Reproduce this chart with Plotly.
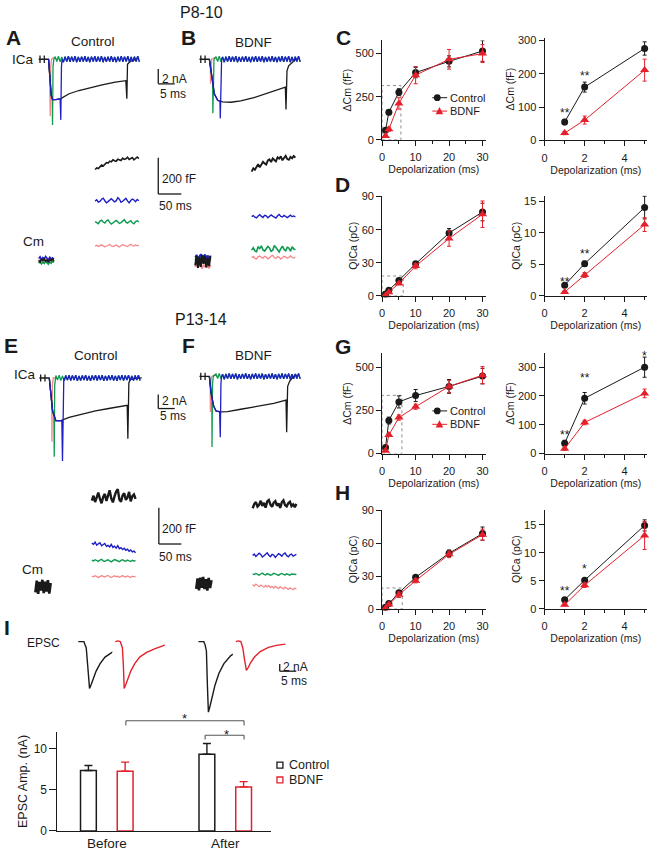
import plotly.graph_objects as go

W, H = 652, 853
FONT = "Liberation Sans, Arial, sans-serif"
INK = "#1a1a1a"
RED = "#e3202b"
BLUE = "#1f1fc6"
GREEN = "#0e9a50"
PINK = "#f4898b"
GREY = "#8c8c8c"

# ── Summary data: depolarization steps (ms) ───────────────────────────────────
DEPOL = [1, 2, 5, 10, 20, 30]
ZOOM_N = 3  # inset plots show the 1, 2 and 5 ms steps

C_CTRL = [55, 160, 276, 390, 455, 515]
C_CTRL_ERR = [8, 15, 20, 30, 32, 60]
C_BDNF = [22, 61, 211, 375, 467, 500]
C_BDNF_ERR = [5, 12, 33, 50, 57, 52]

D_CTRL = [1.7, 5.1, 14.0, 29, 57, 76]
D_CTRL_ERR = [0.3, 0.4, 1.8, 2, 4, 8]
D_BDNF = [0.6, 3.3, 11.3, 27, 52, 74]
D_BDNF_ERR = [0.2, 0.4, 1.1, 2.5, 7, 12]

G_CTRL = [36, 192, 300, 337, 390, 450]
G_CTRL_ERR = [10, 20, 35, 35, 40, 45]
G_BDNF = [17, 108, 209, 272, 390, 455]
G_BDNF_ERR = [5, 8, 15, 15, 35, 50]

H_CTRL = [1.6, 5.1, 14.9, 29, 51, 69]
H_CTRL_ERR = [0.2, 0.3, 1.0, 1.5, 3, 6]
H_BDNF = [0.7, 4.2, 13.1, 26, 50, 68]
H_BDNF_ERR = [0.2, 0.4, 2.5, 2, 3, 5]

# ── EPSC amplitude bars ───────────────────────────────────────────────────────
EPSC_GROUPS = ["Before", "After"]
EPSC_CTRL = [7.35, 9.33]
EPSC_CTRL_ERR = [0.62, 1.31]
EPSC_BDNF = [7.26, 5.36]
EPSC_BDNF_ERR = [1.12, 0.64]

# ── ICa traces (ms from step onset, nA) ───────────────────────────────────────
HOLD_T = [-3.0, -2.6, -2.6, -2.6, -2.6, -1.3, -1.3, -1.3, -1.3, 0.0]
HOLD_I = [0, 0, 0.5, -0.5, 0, 0, 0.5, -0.5, 0, 0]

ZIG_T = [2.0, 2.5, 3.0, 3.5, 4.0, 4.5, 5.0, 5.5, 6.0, 6.5, 7.0, 7.5, 8.0,
         8.5, 9.0, 9.5, 10.0, 10.5, 11.0, 11.5, 12.0, 12.5, 13.0, 13.5, 14.0, 14.5,
         15.0, 15.5, 16.0, 16.5, 17.0, 17.5, 18.0, 18.5, 19.0, 19.5, 20.0, 20.5, 21.0,
         21.5, 22.0, 22.5, 23.0, 23.5, 24.0, 24.5, 25.0, 25.5, 26.0, 26.5, 27.0, 27.5]
ZIG_I = [0.35, -0.30, 0.40, -0.35, 0.30, -0.40, 0.35, -0.30, 0.40, -0.35, 0.35, -0.30, 0.40,
         -0.40, 0.30, -0.35, 0.35, -0.30, 0.40, -0.35, 0.30, -0.40, 0.35, -0.30, 0.40, -0.35,
         0.35, -0.30, 0.40, -0.40, 0.30, -0.35, 0.35, -0.30, 0.40, -0.35, 0.30, -0.40, 0.35,
         -0.30, 0.40, -0.35, 0.35, -0.30, 0.40, -0.40, 0.30, -0.35, 0.35, -0.30, 0.40, -0.35]

A_K_T = [0, 0.4, 0.8, 1.2, 2.2, 3.7, 6.2, 9.2, 12.2, 16.2, 20.2, 23.4, 23.7, 23.9, 24.7, 25.7, 26.7]
A_K_I = [0, -2.9, -4.9, -5.47, -5.47, -5.33, -4.67, -4.23, -3.87, -3.47, -3.1, -2.9, -5.33, -0.67, -0.3, -0.13, 0]
A_BL_T = [0, 0.4, 0.8, 1.2, 2.2, 3.5, 3.7, 3.9, 4.1]
A_BL_I = [0, -2.9, -4.9, -5.47, -5.47, -5.35, -8.2, -1.0, 0]
A_GR_T = [0, 0.4, 0.8, 1.1, 1.2, 1.35, 1.6]
A_GR_I = [0, -2.9, -4.9, -5.4, -8.9, -1.0, 0]
A_PK_T = [0, 0.3, 0.5, 0.65, 0.9, 1.5, 2.5]
A_PK_I = [0, -2.2, -7.7, -1.0, 0, 0.2, 0]

B_K_T = [0, 0.7, 1.5, 2.5, 4.0, 6.5, 9.5, 13.5, 17.5, 20.5, 23.0, 23.2, 23.5, 24.0, 25.0, 26.0, 26.5]
B_K_I = [0, -2.44, -4.67, -5.56, -5.78, -5.82, -5.64, -5.2, -4.58, -4.13, -3.78, -6.8, -1.56, -0.89, -0.44, -0.09, 0]
B_BL_T = [0, 0.7, 1.5, 2.5, 3.2, 3.3, 3.5, 3.7]
B_BL_I = [0, -2.44, -4.67, -5.56, -5.7, -8.0, -1.0, 0]
B_GR_T = [0, 0.7, 1.0, 1.05, 1.2, 1.4]
B_GR_I = [0, -2.44, -3.2, -7.3, -1.0, 0]
B_PK_T = [0, 0.3, 0.35, 0.5, 0.7, 1.5, 2.5]
B_PK_I = [0, -1.2, -3.3, -0.5, 0, 0.2, 0]

E_K_T = [0, 0.5, 1.0, 2.0, 3.5, 6.0, 10.0, 14.0, 18.0, 21.0, 23.6, 23.8, 24.1, 24.5, 25.5, 28.0]
E_K_I = [0, -2.56, -4.63, -6.02, -6.02, -5.56, -5.09, -4.63, -4.3, -4.03, -3.84, -8.57, -0.7, -0.23, -0.1, 0]
E_BL_T = [0, 0.5, 1.0, 2.0, 3.8, 4.0, 4.2, 4.4]
E_BL_I = [0, -2.56, -4.63, -6.02, -6.0, -11.7, -1.0, 0]
E_GR_T = [0, 0.5, 1.0, 1.4, 1.5, 1.65, 1.9]
E_GR_I = [0, -2.56, -4.63, -5.3, -11.1, -1.0, 0]
E_PK_T = [0, 0.5, 0.75, 0.8, 0.95, 1.2, 2.5]
E_PK_I = [0, -2.56, -3.6, -9.0, -1.0, 0, 0]

F_K_T = [0, 0.5, 1.3, 2.0, 3.5, 5.5, 9.5, 14.5, 19.5, 23.2, 23.4, 23.7, 24.3, 25.5, 26.5]
F_K_I = [0, -2.3, -4.17, -4.86, -5.0, -4.95, -4.63, -4.26, -3.8, -3.33, -7.86, -1.39, -0.69, 0, 0.2]
F_BL_T = [0, 0.5, 1.3, 2.0, 3.1, 3.3, 3.5, 3.7]
F_BL_I = [0, -2.3, -4.17, -4.86, -5.0, -8.56, -1.0, 0]
F_GR_T = [0, 0.5, 0.75, 0.8, 0.95, 1.2]
F_GR_I = [0, -2.3, -3.2, -9.94, -1.0, 0]
F_PK_T = [0, 0.25, 0.3, 0.45, 0.7, 1.5, 2.5]
F_PK_I = [0, -1.2, -5.0, -0.6, 0, 0.2, 0]

# ── Cm traces (ms, fF above pre-pulse baseline) ──────────────────────────────
CM_PRE_T = [0, 3, 6, 9, 12, 15, 18, 21, 24, 27, 30, 33]
CM_POST_T = [122, 125.5, 129, 132.5, 136, 139.5, 143, 146.5, 150, 153.5,
             157, 160.5, 164, 167.5, 171, 174.5, 178, 181.5, 185, 188.5,
             192, 195.5, 199, 202.5, 206, 209.5, 213, 216.5]

A_CMPRE_P = [-8, 6, -4, 10, -6, 4, -10, 8, -2, 6, -6, 2]
A_CMPRE_G = [-16, -6, -20, -10, -18, -4, -14, -22, -8, -16, -6, -12]
A_CMPRE_B = [10, 20, 4, 16, 8, 22, 12, 2, 18, 8, 14, 6]
A_CMPRE_K = [0, -10, 8, -4, 12, -8, 4, -12, 6, -2, 10, -6]
A_CM_K = [503, 512, 508, 520, 527, 522, 535, 541, 538, 549, 545, 556, 551, 548,
          560, 557, 553, 566, 559, 562, 571, 558, 565, 569, 556, 567, 572, 563]
A_CM_B = [328, 335, 322, 326, 338, 344, 330, 319, 325, 336, 341, 333, 324, 329,
          347, 338, 321, 327, 335, 343, 329, 318, 331, 339, 334, 325, 337, 330]
A_CM_G = [214, 208, 203, 217, 222, 212, 206, 219, 224, 210, 201, 207, 216, 221,
          213, 204, 209, 218, 225, 211, 206, 214, 220, 208, 202, 215, 219, 212]
A_CM_P = [79, 83, 77, 81, 86, 80, 75, 78, 84, 88, 81, 76, 80, 85,
          79, 74, 82, 87, 83, 78, 76, 84, 89, 82, 79, 85, 81, 84]

B_CMPRE_P = [-30, -12, -36, -6, -26, -40, -18, -32, -10, -28, -38, -20]
B_CMPRE_G = [8, 24, 0, 30, 14, 26, 4, 20, 32, 10, 22, 6]
B_CMPRE_B = [22, 36, 12, 30, 40, 16, 28, 38, 14, 32, 20, 26]
B_CMPRE_K = [-22, 30, -36, 24, -30, 36, -14, 28, -34, 20, -26, 32]
B_CM_K = [496, 515, 507, 524, 538, 520, 533, 551, 542, 536, 558, 564, 549, 570,
          561, 553, 576, 568, 581, 559, 572, 584, 566, 562, 578, 570, 583, 574]
B_CM_B = [247, 253, 244, 240, 251, 258, 249, 243, 255, 252, 241, 247, 257, 250,
          244, 239, 252, 259, 248, 245, 254, 250, 242, 249, 256, 247, 251, 246]
B_CM_G = [62, 75, 58, 54, 80, 71, 86, 63, 57, 69, 82, 74, 55, 61,
          88, 77, 64, 52, 70, 84, 66, 59, 78, 73, 56, 81, 68, 64]
B_CM_P = [21, 27, 16, 13, 25, 30, 22, 18, 28, 24, 14, 19, 29, 33,
          21, 16, 26, 22, 12, 20, 28, 25, 17, 23, 30, 21, 18, 24]

E_CMPRE_K = [-30, 35, -38, 28, -20, 40, -34, 30, -26, 38, -36, 22]
E_CM_K = [478, 505, 470, 492, 522, 487, 463, 498, 515, 476, 509, 535, 490, 468,
          501, 528, 541, 484, 472, 507, 519, 482, 495, 526, 474, 503, 512, 488]
E_CM_B = [243, 236, 248, 231, 239, 245, 228, 234, 241, 225, 230, 222, 236, 219,
          226, 215, 229, 212, 218, 207, 214, 203, 209, 198, 205, 194, 199, 189]
E_CM_G = [148, 144, 151, 146, 142, 149, 153, 145, 141, 147, 150, 144, 139, 146,
          152, 148, 143, 140, 147, 151, 145, 142, 149, 146, 141, 148, 144, 146]
E_CM_P = [60, 56, 62, 58, 53, 57, 63, 59, 55, 61, 64, 57, 52, 58,
          62, 56, 60, 54, 59, 63, 57, 55, 61, 58, 53, 60, 56, 59]

F_CMPRE_K = [-28, 30, -36, 34, -22, 38, -30, 26, -38, 32, -24, 20]
F_CM_K = [418, 441, 452, 427, 436, 459, 431, 447, 421, 455, 463, 438, 426, 449,
          457, 432, 444, 420, 451, 461, 435, 428, 446, 454, 430, 439, 424, 442]
F_CM_B = [156, 164, 151, 158, 169, 162, 148, 155, 166, 171, 157, 150, 163, 159,
          146, 154, 167, 161, 152, 165, 170, 156, 149, 160, 164, 153, 158, 162]
F_CM_G = [55, 51, 57, 53, 48, 54, 59, 52, 49, 56, 53, 47, 51, 58,
          55, 50, 46, 53, 57, 52, 49, 55, 51, 47, 54, 52, 49, 51]
F_CM_P = [-4, -13, -2, -10, -16, -7, -12, -19, -9, -17, -11, -21, -14, -24,
          -15, -20, -27, -16, -23, -29, -19, -25, -31, -22, -28, -33, -24, -30]

# ── EPSC traces (ms from sweep start, nA) ─────────────────────────────────────
EPSC_BC_T = [0, 1.7, 2.0, 2.4, 2.85, 3.4, 3.9, 4.5, 5.4, 6.6, 8.1, 10.2, 12.6, 15.0]
EPSC_BC_I = [0, 0, -0.77, -1.7, -6.7, -13.0, -11.9, -10.3, -8.2, -6.1, -4.3, -3.0, -2.1, -1.6]
EPSC_BB_T = [0, 0.8, 1.5, 1.86, 2.16, 2.46, 2.7, 3.2, 3.8, 4.7, 5.9, 7.4, 9.5, 11.9, 15.0]
EPSC_BB_I = [0, 0.2, 0, -0.77, -1.7, -6.7, -13.0, -11.9, -10.3, -8.2, -6.1, -4.3, -3.0, -2.0, -1.0]
EPSC_AC_T = [0, 1.6, 2.0, 2.4, 2.7, 3.0, 3.5, 4.1, 5.0, 6.2, 7.7, 9.8, 12.2, 15.0]
EPSC_AC_I = [0, 0, -0.9, -2.6, -12.1, -19.6, -17.9, -15.4, -12.1, -8.8, -6.1, -3.9, -2.5, -1.6]
EPSC_AB_T = [0, 0.75, 1.5, 1.74, 2.1, 2.55, 3.2, 3.75, 4.5, 5.7, 7.5, 9.9, 12.3, 15.0]
EPSC_AB_I = [0, 0.2, 0, -0.63, -1.7, -4.5, -8.0, -7.2, -5.8, -4.2, -2.7, -1.6, -1.04, -0.71]


fig = go.Figure()
axes = {}


def xk(n): return "xaxis" if n == 1 else f"xaxis{n}"
def yk(n): return "yaxis" if n == 1 else f"yaxis{n}"
def xr(n): return "x" if n == 1 else f"x{n}"
def yr(n): return "y" if n == 1 else f"y{n}"


AX_LINE = dict(showline=True, linecolor=INK, linewidth=1.2, ticks="outside",
               ticklen=5, tickwidth=1.1, tickcolor=INK, showgrid=False,
               zeroline=False, tickfont=dict(size=11, color=INK))


def plot_axes(n, left, right, xrange_, top, bottom, yrange_, xdt, ydt, ytitle):
    axes[xk(n)] = dict(AX_LINE, domain=[left / W, right / W], range=xrange_,
                       anchor=yr(n), tick0=0, dtick=xdt, ticklabelstandoff=2,
                       minor=dict(dtick=xdt / 2, ticks="outside", ticklen=3,
                                  tickcolor=INK, tickwidth=1),
                       title=dict(text="Depolarization (ms)", standoff=3,
                                  font=dict(size=10.5, color=INK)))
    axes[yk(n)] = dict(AX_LINE, domain=[1 - bottom / H, 1 - top / H], range=yrange_,
                       anchor=xr(n), tick0=0, dtick=ydt,
                       title=dict(text=ytitle, standoff=1,
                                  font=dict(size=10.5, color=INK)))


def trace_axes(n, box, origin, sx, sy):
    # box in page pixels (left, top, right, bottom); origin = pixel of (0, 0)
    x0, y0, x1, y1 = box
    ox, oy = origin
    axes[xk(n)] = dict(domain=[x0 / W, x1 / W], range=[(x0 - ox) / sx, (x1 - ox) / sx],
                       visible=False, anchor=yr(n))
    axes[yk(n)] = dict(domain=[1 - y1 / H, 1 - y0 / H], range=[(oy - y1) / sy, (oy - y0) / sy],
                       visible=False, anchor=xr(n))


def line(n, t, v, color, width=1.3):
    fig.add_trace(go.Scatter(x=t, y=v, mode="lines", xaxis=xr(n), yaxis=yr(n),
                             line=dict(color=color, width=width),
                             showlegend=False, hoverinfo="skip"))


def series(n, y, err, color, symbol, size, inset):
    k = ZOOM_N if inset else len(DEPOL)
    fig.add_trace(go.Scatter(
        x=DEPOL[:k], y=y[:k], mode="lines+markers", xaxis=xr(n), yaxis=yr(n),
        line=dict(color=color, width=1),
        marker=dict(color=color, symbol=symbol, size=size),
        error_y=dict(type="data", array=err[:k], color=color, thickness=1, width=2),
        cliponaxis=False, showlegend=False, hoverinfo="skip"))


def with_zig(t, v):
    tail = [(a, b) for a, b in zip(ZIG_T, ZIG_I) if a > t[-1]]
    return t + [a for a, _ in tail], v + [b for _, b in tail]


def ica_panel(n, k, bl, gr, pk):
    line(n, pk[0], pk[1], PINK)
    gt, gv = with_zig(gr[0], gr[1])
    line(n, gt, gv, GREEN)
    line(n, HOLD_T + k[0], HOLD_I + k[1], INK)
    bt, bv = with_zig(bl[0], bl[1])
    line(n, bt, bv, BLUE)


def cm_panel(n, pre, post):
    for vals, color, w in pre:
        line(n, CM_PRE_T, vals, color, w)
    for vals, color, w in post:
        line(n, CM_POST_T, vals, color, w)


def P(x, y):
    return x / W, 1 - y / H


def seg(x0, y0, x1, y1, color=INK, width=1.3, dash=None):
    a, b = P(x0, y0)
    c, d = P(x1, y1)
    fig.add_shape(type="line", xref="paper", yref="paper", x0=a, y0=b, x1=c, y1=d,
                  line=dict(color=color, width=width, dash=dash))


def label(x, y, s, size, bold=False, xanchor="center", color=INK):
    a, b = P(x, y)
    fig.add_annotation(x=a, y=b, xref="paper", yref="paper", showarrow=False,
                       text=f"<b>{s}</b>" if bold else s, xanchor=xanchor, yanchor="middle",
                       font=dict(size=size, color=color, family=FONT))


# ── Summary plots C, D, G, H ──────────────────────────────────────────────────
plot_axes(1, 382.7, 487, [0, 30.9], 36, 136.7, [0, 576], 10, 250, "ΔCm (fF)")
plot_axes(2, 546.7, 650, [0, 5.12], 33.3, 137.3, [0, 308], 2, 100, "ΔCm (fF)")
plot_axes(3, 382.7, 487, [0, 30.9], 193.3, 295, [0, 90.9], 10, 30, "QICa (pC)")
plot_axes(4, 546.7, 650, [0, 5.12], 193.3, 295, [0, 15.9], 2, 5, "QICa (pC)")
plot_axes(5, 382.7, 487, [0, 30.9], 353.3, 455, [0, 582], 10, 250, "ΔCm (fF)")
plot_axes(6, 546.7, 650, [0, 5.12], 353.3, 455, [0, 348], 2, 100, "ΔCm (fF)")
plot_axes(7, 382.7, 487, [0, 30.9], 511.7, 612.7, [0, 91], 10, 30, "QICa (pC)")
plot_axes(8, 546.7, 650, [0, 5.12], 511.7, 612.3, [0, 17.75], 2, 5, "QICa (pC)")

for pair, ctrl, ctrl_e, bdnf, bdnf_e in [
        ((1, 2), C_CTRL, C_CTRL_ERR, C_BDNF, C_BDNF_ERR),
        ((3, 4), D_CTRL, D_CTRL_ERR, D_BDNF, D_BDNF_ERR),
        ((5, 6), G_CTRL, G_CTRL_ERR, G_BDNF, G_BDNF_ERR),
        ((7, 8), H_CTRL, H_CTRL_ERR, H_BDNF, H_BDNF_ERR)]:
    for n, inset in zip(pair, (False, True)):
        series(n, ctrl, ctrl_e, INK, "circle", 7, inset)
        series(n, bdnf, bdnf_e, RED, "triangle-up", 8, inset)

# dotted boxes marking the inset range
for n, bx, by in [(1, 5.6, 315), (3, 6.3, 18), (5, 5.9, 338), (7, 6.0, 19.3)]:
    fig.add_shape(type="rect", xref=xr(n), yref=yr(n), x0=0, y0=0, x1=bx, y1=by,
                  line=dict(color=GREY, width=1, dash="dot"), layer="below")

# significance marks on the insets
for n, x, y, s in [(2, 1, 81, "**"), (2, 2, 192, "**"),
                   (4, 1, 2.2, "**"), (4, 2, 6.6, "**"),
                   (6, 1, 65, "**"), (6, 2, 264, "**"), (6, 5, 338, "*"),
                   (8, 1, 3.1, "**"), (8, 2, 7.06, "*")]:
    fig.add_annotation(x=x, y=y, xref=xr(n), yref=yr(n), text=s, showarrow=False,
                       font=dict(size=12, color=INK), yanchor="middle")

# in-plot legends for C and G
for y0 in (94, 411.7):
    seg(433.3, y0, 448.3, y0, INK, 1)
    a, b = P(438.3 - 3.4, y0 - 3.4)
    c, d = P(438.3 + 3.4, y0 + 3.4)
    fig.add_shape(type="circle", xref="paper", yref="paper", x0=a, y0=b, x1=c, y1=d,
                  fillcolor=INK, line=dict(color=INK, width=0))
    label(449, y0, "Control", 11, xanchor="left")
    y1 = y0 + 13.6
    seg(433.3, y1, 448.3, y1, RED, 1)
    p1, p2, p3 = P(436.7, y1 + 3.2), P(444.3, y1 + 3.2), P(440.5, y1 - 4.2)
    fig.add_shape(type="path", xref="paper", yref="paper", fillcolor=RED,
                  line=dict(color=RED, width=0),
                  path=f"M {p1[0]},{p1[1]} L {p2[0]},{p2[1]} L {p3[0]},{p3[1]} Z")
    label(449, y1, "BDNF", 11, xanchor="left")

# ── ICa traces ────────────────────────────────────────────────────────────────
trace_axes(9, (28, 45, 145, 128), (46, 55), 3.333, 7.5)
trace_axes(10, (190, 45, 305, 128), (208.3, 55), 3.333, 7.5)
trace_axes(11, (28, 365, 145, 470), (46.7, 378.3), 3.333, 7.2)
trace_axes(12, (190, 365, 305, 470), (208.3, 376.7), 3.333, 7.2)
ica_panel(9, (A_K_T, A_K_I), (A_BL_T, A_BL_I), (A_GR_T, A_GR_I), (A_PK_T, A_PK_I))
ica_panel(10, (B_K_T, B_K_I), (B_BL_T, B_BL_I), (B_GR_T, B_GR_I), (B_PK_T, B_PK_I))
ica_panel(11, (E_K_T, E_K_I), (E_BL_T, E_BL_I), (E_GR_T, E_GR_I), (E_PK_T, E_PK_I))
ica_panel(12, (F_K_T, F_K_I), (F_BL_T, F_BL_I), (F_GR_T, F_GR_I), (F_PK_T, F_PK_I))

# ── Cm traces ─────────────────────────────────────────────────────────────────
trace_axes(13, (28, 140, 145, 278), (36, 259), 0.467, 0.1833)
trace_axes(14, (188, 140, 305, 278), (194, 260), 0.467, 0.1833)
trace_axes(15, (28, 480, 145, 610), (32.7, 590.3), 0.467, 0.1833)
trace_axes(16, (188, 480, 305, 610), (195, 587), 0.467, 0.1833)
cm_panel(13, [(A_CMPRE_P, PINK, 1.5), (A_CMPRE_G, GREEN, 1.5), (A_CMPRE_B, BLUE, 1.5), (A_CMPRE_K, INK, 1.5)],
         [(A_CM_K, INK, 1.6), (A_CM_B, BLUE, 1.4), (A_CM_G, GREEN, 1.4), (A_CM_P, PINK, 1.3)])
cm_panel(14, [(B_CMPRE_P, PINK, 1.8), (B_CMPRE_G, GREEN, 1.8), (B_CMPRE_B, BLUE, 1.8), (B_CMPRE_K, INK, 2)],
         [(B_CM_K, INK, 1.9), (B_CM_B, BLUE, 1.4), (B_CM_G, GREEN, 1.6), (B_CM_P, PINK, 1.3)])
cm_panel(15, [(E_CMPRE_K, INK, 2.6)],
         [(E_CM_K, INK, 2.4), (E_CM_B, BLUE, 1.4), (E_CM_G, GREEN, 1.4), (E_CM_P, PINK, 1.3)])
cm_panel(16, [(F_CMPRE_K, INK, 2.6)],
         [(F_CM_K, INK, 2.4), (F_CM_B, BLUE, 1.4), (F_CM_G, GREEN, 1.4), (F_CM_P, PINK, 1.3)])

# ── EPSC traces ───────────────────────────────────────────────────────────────
for n, x0, t, v, color in [(17, 76, EPSC_BC_T, EPSC_BC_I, INK),
                           (18, 113.3, EPSC_BB_T, EPSC_BB_I, RED),
                           (19, 197.3, EPSC_AC_T, EPSC_AC_I, INK),
                           (20, 235, EPSC_AB_T, EPSC_AB_I, RED)]:
    trace_axes(n, (x0 - 3, 638, x0 + 55, 722), (x0, 645.7), 3.333, 3.65)
    line(n, t, v, color, 1.4)

# ── EPSC amplitude bar chart ─────────────────────────────────────────────────
axes["xaxis21"] = dict(domain=[55 / W, 270 / W], type="category", categoryorder="array",
                       categoryarray=EPSC_GROUPS, range=[-0.416, 1.382], anchor="y21",
                       showline=True, linecolor=INK, linewidth=1.2, ticks="",
                       showgrid=False, tickfont=dict(size=13.5, color=INK))
axes["yaxis21"] = dict(AX_LINE, domain=[1 - 837.7 / H, 1 - 737.3 / H], range=[0, 12.05],
                       anchor="x21", dtick=5, ticklen=7, tickfont=dict(size=12, color=INK),
                       title=dict(text="EPSC Amp. (nA)", standoff=3,
                                  font=dict(size=12.5, color=INK)))
for vals, err, color, name in [(EPSC_CTRL, EPSC_CTRL_ERR, INK, "Control"),
                               (EPSC_BDNF, EPSC_BDNF_ERR, RED, "BDNF")]:
    fig.add_trace(go.Bar(x=EPSC_GROUPS, y=vals, name=name, xaxis="x21", yaxis="y21",
                         marker=dict(color="white", line=dict(color=color, width=1.5)),
                         error_y=dict(type="data", array=err, arrayminus=[0] * len(err),
                                      symmetric=False, color=color, thickness=1.4, width=4),
                         showlegend=False, hoverinfo="skip"))

# significance brackets
BR = "#555555"
seg(124, 726, 243.3, 726, BR, 1.1)
seg(124, 726, 124, 730.7, BR, 1.1)
seg(243.3, 726, 243.3, 730.7, BR, 1.1)
seg(204, 740.7, 243.3, 740.7, BR, 1.1)
seg(204, 740.7, 204, 745, BR, 1.1)
seg(243.3, 740.7, 243.3, 745, BR, 1.1)
label(182.7, 724, "*", 13)
label(225.7, 740, "*", 13)

# bar legend
for y0, color, name in [(771, INK, "Control"), (786, RED, "BDNF")]:
    a, b = P(276.5, y0 - 3)
    c, d = P(282.5, y0 + 3)
    fig.add_shape(type="rect", xref="paper", yref="paper", x0=a, y0=b, x1=c, y1=d,
                  fillcolor="white", line=dict(color=color, width=1.3))
    label(286.7, y0, name, 12.5, xanchor="left")

# ── scale bars ────────────────────────────────────────────────────────────────
for xv, ytop, ybot, xh, t1, t1y, t2, t2x, t2y in [
        (156.7, 65, 80, 173.3, "2 nA", 75.5, "5 ms", 172, 90),
        (156.7, 155, 191.7, 180, "200 fF", 176.7, "50 ms", 173.7, 203.5),
        (156.7, 395, 409.3, 173.3, "2 nA", 401.7, "5 ms", 172, 417),
        (157.3, 510, 546.7, 180, "200 fF", 531.7, "50 ms", 174.5, 559.5),
        (279.3, 668.3, 675.7, 296, "2 nA", 671.5, "5 ms", 294, 685.7)]:
    seg(xv, ytop, xv, ybot, INK, 1.3)
    seg(xv, ybot, xh, ybot, INK, 1.3)
    label(xv + 1.5, t1y, t1, 12, xanchor="left")
    label(t2x, t2y, t2, 12)

# ── panel text ────────────────────────────────────────────────────────────────
label(200, 8, "P8-10", 16)
label(200, 319, "P13-14", 16)
for x, y, s in [(10.8, 33, "A"), (187.5, 33, "B"), (343.3, 33, "C"), (343, 182, "D"),
                (8.3, 345, "E"), (187.5, 345, "F"), (343, 346.7, "G"), (343, 494.5, "H"),
                (4.5, 631.7, "I")]:
    label(x, y, s, 21, bold=True)
label(90.5, 37.5, "Control", 13.5)
label(253, 38, "BDNF", 13.5)
label(94, 355, "Control", 13.5)
label(252.5, 355, "BDNF", 13.5)
label(20.5, 55, "ICa", 13.5)
label(21.7, 375, "ICa", 13.5)
label(30.5, 240, "Cm", 13.5)
label(30, 572.5, "Cm", 13.5)
label(40.7, 647.5, "EPSC", 12)

fig.update_layout(width=W, height=H, margin=dict(l=0, r=0, t=0, b=0),
                  paper_bgcolor="white", plot_bgcolor="white",
                  font=dict(family=FONT, color=INK), showlegend=False,
                  barmode="group", bargap=0.38, bargroupgap=0.57, **axes)

# the page body has a default 8 px margin; drop it so the figure fills the window
fig.write_html("out.html", config={"displayModeBar": False},
               post_script="document.body.style.margin='0px';")
